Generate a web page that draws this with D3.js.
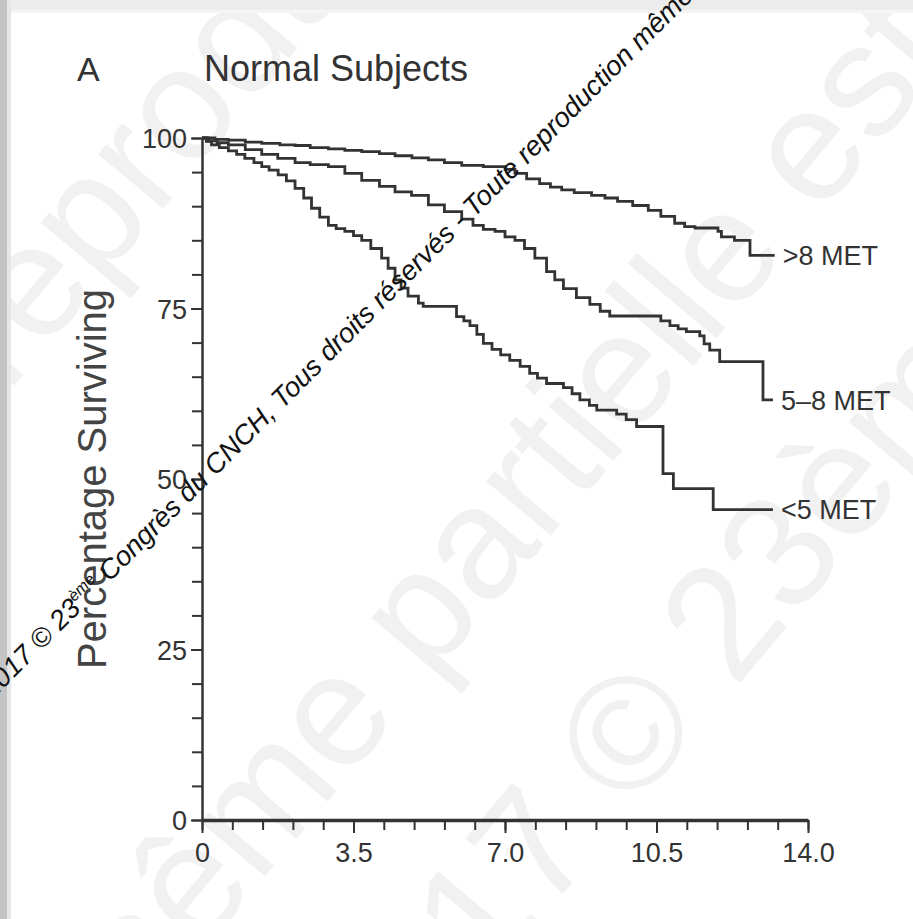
<!DOCTYPE html>
<html>
<head>
<meta charset="utf-8">
<script src="https://cdn.jsdelivr.net/npm/d3@7"></script>
<style>
  body { margin: 0; background: #fff; }
  svg { display: block; font-family: "Liberation Sans", Arial, Helvetica, sans-serif; }
  .axis path, .axis line { stroke: #333; }
  .axis text { fill: #333; font-family: "Liberation Sans", Arial, sans-serif; }
</style>
</head>
<body>
<div id="chart"></div>
<script>
const width = 913,
      height = 919;

// survival steps: [years, % surviving]
const met8 = [
  [0, 100], [0.3, 99.8], [0.61, 99.7], [1.0, 99.4], [1.38, 99.2], [1.8, 99.0], [2.15, 98.9],
  [2.5, 98.6], [2.92, 98.4], [3.3, 98.2], [3.69, 98.0], [4.1, 97.7], [4.46, 97.4], [4.85, 97.1],
  [5.23, 96.8], [5.6, 96.4], [6.0, 96.0], [6.5, 95.8], [7.0, 95.4], [7.23, 94.8], [7.5, 94.0],
  [7.8, 93.3], [8.05, 92.8], [8.31, 92.4], [8.6, 92.0], [9.0, 91.6], [9.31, 91.2], [9.6, 90.7],
  [9.95, 90.1], [10.31, 89.4], [10.6, 88.5], [10.92, 87.5], [11.15, 87.0], [11.39, 86.8],
  [11.92, 86.3], [12.0, 85.5], [12.3, 85.0], [12.66, 82.8], [13.23, 82.8]
];
const met5to8 = [
  [0, 100], [0.15, 99.6], [0.35, 99.3], [0.61, 99.0], [1.0, 98.3], [1.38, 97.6], [1.75, 97.0],
  [2.15, 96.4], [2.5, 96.1], [2.92, 95.8], [3.3, 94.8], [3.69, 93.8], [4.1, 92.9], [4.46, 92.1],
  [4.84, 91.6], [5.23, 90.2], [5.6, 89.2], [6.0, 88.1], [6.26, 87.2], [6.5, 86.6], [6.77, 86.3],
  [7.0, 85.5], [7.23, 85.0], [7.45, 83.8], [7.69, 82.4], [7.96, 80.4], [8.15, 79.2], [8.35, 77.9],
  [8.65, 76.6], [8.96, 75.6], [9.2, 74.6], [9.42, 73.9], [10.6, 73.2], [10.81, 72.5], [11.0, 72.0],
  [11.19, 71.6], [11.5, 71.0], [11.6, 69.8], [11.73, 68.9], [11.96, 67.2], [12.96, 61.6], [13.19, 61.6]
];
const met5 = [
  [0, 100], [0.1, 99.5], [0.22, 99.0], [0.4, 98.6], [0.61, 98.1], [0.8, 97.6], [0.99, 97.0],
  [1.2, 96.4], [1.38, 95.8], [1.55, 95.3], [1.76, 94.6], [1.95, 93.7], [2.15, 92.6], [2.35, 91.2],
  [2.53, 89.7], [2.72, 88.4], [2.92, 87.2], [3.1, 86.7], [3.3, 86.3], [3.5, 85.7], [3.69, 85.0],
  [3.9, 83.8], [4.15, 82.4], [4.3, 80.9], [4.46, 79.2], [4.6, 78.0], [4.76, 76.8], [5.0, 75.8],
  [5.11, 75.3], [5.88, 73.8], [6.05, 73.2], [6.19, 72.5], [6.35, 71.2], [6.5, 69.9], [6.7, 69.0],
  [6.9, 68.2], [7.11, 67.4], [7.35, 66.5], [7.57, 65.5], [7.75, 64.8], [7.96, 64.0], [8.35, 63.4],
  [8.55, 62.5], [8.73, 61.6], [8.95, 60.8], [9.12, 60.1], [9.58, 59.5], [9.8, 58.7], [10.04, 57.7],
  [10.65, 50.8], [10.89, 48.6], [11.81, 45.5], [13.19, 45.5]
];

const seriesNames = ['>8 MET', '5\u20138 MET', '<5 MET'];
const seriesData = [met8, met5to8, met5];

const yTicks = [0, 25, 50, 75, 100];
const xTicks = [0, 3.5, 7, 10.5, 14];
const xTickLabels = ['0', '3.5', '7.0', '10.5', '14.0'];

const svg = d3.select('#chart').append('svg')
    .attr('width', width)
    .attr('height', height);

// faint background watermark
const bigMarks = [
  {text: 'Toute reproduction', x: -273, y: 728},
  {text: 'm\u00eame partielle est interdite', x: 115, y: 1055},
  {text: '2017 \u00a9 23\u00e8me Congr\u00e8s', x: 373, y: 1120}
];
svg.append('g')
  .selectAll('text')
  .data(bigMarks)
  .enter().append('text')
    .attr('transform', d => `translate(${d.x},${d.y}) rotate(-50)`)
    .attr('font-size', 160)
    .attr('fill', '#f1f1f1')
    .text(d => d.text);

// page frame
svg.append('rect').attr('width', width).attr('height', 10).attr('fill', '#ececec');
svg.append('rect').attr('y', 10).attr('width', width).attr('height', 3).attr('fill', '#f5f5f5');
svg.append('rect').attr('width', 7).attr('height', height).attr('fill', '#c4c4c4');
svg.append('rect').attr('x', 7).attr('width', 4).attr('height', height).attr('fill', '#e6e6e6');

const x = d3.scaleLinear().domain([0, 14]).range([202, 808]);
const y = d3.scaleLinear().domain([0, 100]).range([820, 138]);

// minor ticks
svg.append('g')
    .attr('class', 'axis')
    .attr('transform', `translate(${x(0)},0)`)
    .call(d3.axisLeft(y).tickValues(d3.range(0, 101, 5)).tickSize(10).tickSizeOuter(0).tickFormat(''))
    .call(g => g.select('.domain').attr('stroke-width', 2.5))
    .call(g => g.selectAll('.tick line').attr('stroke-width', 2));

svg.append('g')
    .attr('class', 'axis')
    .attr('transform', `translate(${x(0)},0)`)
    .call(d3.axisLeft(y).tickValues(yTicks).tickSize(11).tickPadding(4))
    .call(g => g.select('.domain').remove())
    .call(g => g.selectAll('.tick line').attr('stroke-width', 2))
    .call(g => g.selectAll('text').attr('font-size', 27).attr('dy', '0.36em'));

svg.append('g')
    .attr('class', 'axis')
    .attr('transform', `translate(0,${y(0)})`)
    .call(d3.axisBottom(x).tickValues(d3.range(0, 14.01, 0.7)).tickSize(10).tickSizeOuter(0).tickFormat(''))
    .call(g => g.select('.domain').attr('stroke-width', 3.5))
    .call(g => g.selectAll('.tick line').attr('stroke-width', 2));

svg.append('g')
    .attr('class', 'axis')
    .attr('transform', `translate(0,${y(0)})`)
    .call(d3.axisBottom(x).tickValues(xTicks).tickSize(13).tickPadding(10)
        .tickFormat((d, i) => xTickLabels[i]))
    .call(g => g.select('.domain').remove())
    .call(g => g.selectAll('.tick line').attr('stroke-width', 2))
    .call(g => g.selectAll('text').attr('font-size', 27));

// curves
const line = d3.line()
    .curve(d3.curveStepAfter)
    .x(d => x(d[0]))
    .y(d => y(d[1]));

svg.append('g')
  .selectAll('path')
  .data(seriesData)
  .enter().append('path')
    .attr('d', line)
    .attr('fill', 'none')
    .attr('stroke', '#333')
    .attr('stroke-width', 2.8);

svg.append('g')
  .selectAll('text')
  .data(seriesData)
  .enter().append('text')
    .attr('x', d => x(d[d.length - 1][0]) + 8)
    .attr('y', d => y(d[d.length - 1][1]))
    .attr('dy', '0.36em')
    .attr('font-size', 27)
    .attr('fill', '#333')
    .text((d, i) => seriesNames[i]);

// titles
svg.append('text')
    .attr('x', 77).attr('y', 81)
    .attr('font-size', 34)
    .attr('fill', '#333')
    .text('A');
svg.append('text')
    .attr('x', 204).attr('y', 81)
    .attr('font-size', 36)
    .attr('fill', '#333')
    .text('Normal Subjects');
svg.append('text')
    .attr('transform', `translate(106,${(y(0) + y(100)) / 2}) rotate(-90)`)
    .attr('text-anchor', 'middle')
    .attr('font-size', 40)
    .attr('fill', '#444')
    .text('Percentage Surviving');

// watermark
const wm = svg.append('text')
    .attr('transform', 'translate(-8,700) rotate(-45)')
    .attr('font-size', 27.5)
    .attr('font-style', 'italic')
    .attr('fill', '#111');
wm.append('tspan').text('2017 \u00a9 23');
wm.append('tspan').attr('font-size', 16).attr('dy', -11).text('\u00e8me');
wm.append('tspan').attr('dy', 11).text(' Congr\u00e8s du CNCH, Tous droits r\u00e9serv\u00e9s - Toute reproduction m\u00eame partielle est interdite');
</script>
</body>
</html>
